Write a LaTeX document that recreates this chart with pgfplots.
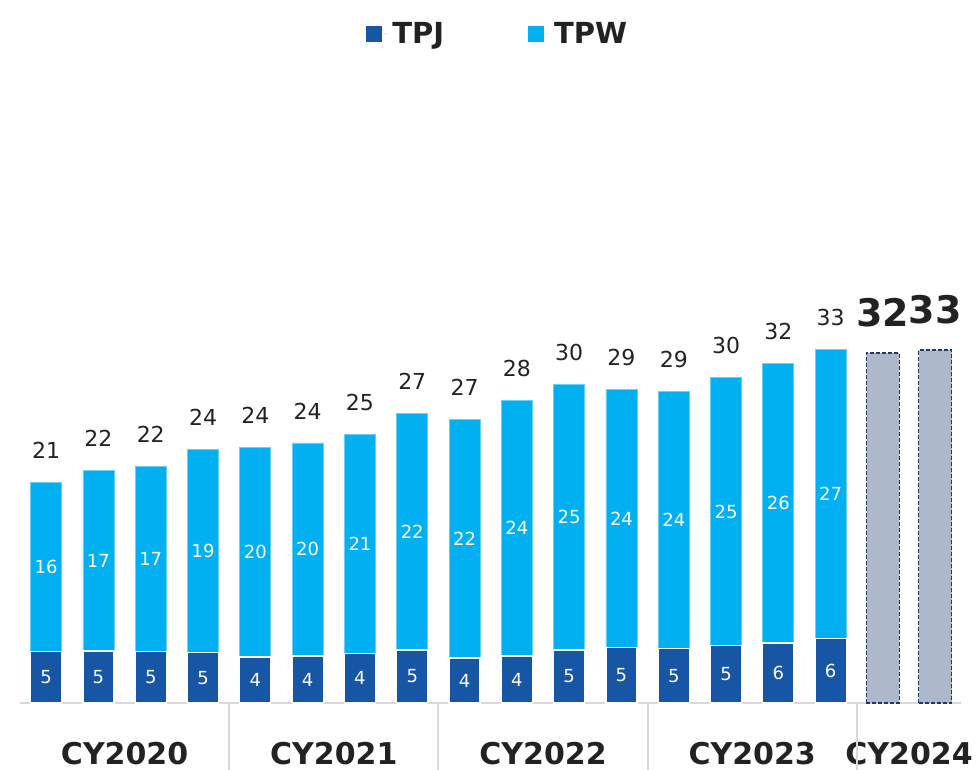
\documentclass[border=0pt]{standalone}
\usepackage{fontspec}
\setmainfont{DejaVu Sans}
\usepackage{pgfplots}
\usepackage{pgfplotstable}
\pgfplotsset{compat=1.18}
\definecolor{tpj}{HTML}{1755A5}
\definecolor{tpw}{HTML}{00B0F0}
\definecolor{fc}{HTML}{ADB9CA}
\definecolor{fcedge}{HTML}{1F3864}
\definecolor{sep}{HTML}{D9D9D9}
\definecolor{txt}{HTML}{222222}
\pgfplotstableread{
x tpj tot jlab wlab tlab
0 4.8 20.6 5 16 21
1 4.85 21.7 5 17 22
2 4.8 22.1 5 17 22
3 4.7 23.7 5 19 24
4 4.3 23.9 4 20 24
5 4.4 24.3 4 20 24
6 4.6 25.1 4 21 25
7 4.95 27.1 5 22 27
8 4.2 26.5 4 22 27
9 4.4 28.3 4 24 28
10 4.95 29.8 5 25 30
11 5.2 29.3 5 24 29
12 5.1 29.1 5 24 29
13 5.35 30.4 5 25 30
14 5.6 31.7 6 26 32
15 6.05 33.0 6 27 33
}\maintab
\pgfplotstableread{
x tot lab
16 32.7 32
17 33.0 33
}\fctab
\begin{document}
\begin{tikzpicture}
\path[use as bounding box] (-10pt,-33.5pt) rectangle (478pt,351.5pt);
\begin{axis}[
  at={(0,0)}, anchor=south west,
  x=26.15pt, y=5.35pt,
  xmin=-0.5, xmax=17.5, ymin=0, ymax=60,
  axis x line=bottom, axis y line=none,
  x axis line style={-, draw=sep, line width=1pt},
  ytick=\empty,
  xtick={1.5,5.5,9.5,13.5,16.5},
  xticklabels={CY2020,CY2021,CY2022,CY2023,CY2024},
  major tick length=0pt,
  x tick label style={font=\fontsize{15}{18}\bfseries\selectfont, text=txt, anchor=base, inner sep=0pt, yshift=-31pt},
  clip=false,
  legend style={at={(axis description cs:0.5,1)}, anchor=center, yshift=13.5pt, xshift=4pt,
    draw=none, fill=none, font=\fontsize{14.5}{17}\bfseries\selectfont, text=txt,
    legend columns=2, /tikz/every even column/.append style={column sep=40pt}},
  legend image code/.code={\fill[#1] (0pt,-4pt) rectangle (8pt,4pt); \path (0pt,0pt) -- (11pt,0pt);},
]
\addlegendimage{fill=tpj, draw=none}
\addlegendentry{TPJ}
\addlegendimage{fill=tpw, draw=none}
\addlegendentry{TPW}
% separators
\foreach \s in {3.5,7.5,11.5,15.5}{
  \edef\tmp{\noexpand\draw[sep, line width=1pt] (axis cs:\s,0) -- ++(0pt,-33.5pt);}\tmp
}
% bars
\addplot[ybar, bar shift=0pt, bar width=15.5pt, fill=tpw, draw=tpw!60!white, line width=0.4pt, forget plot]
  table[x=x, y=tot] {\maintab};
\addplot[ybar, bar shift=0pt, bar width=15.5pt, fill=tpj, draw=white, line width=0.6pt, forget plot]
  table[x=x, y=tpj] {\maintab};
\addplot[ybar, bar shift=0pt, bar width=16.5pt, fill=fc, draw=fcedge, line width=0.7pt,
  dash pattern=on 2pt off 1pt, forget plot]
  table[x=x, y=tot] {\fctab};
% labels
\addplot[draw=none, forget plot, nodes near coords, point meta=explicit symbolic,
  nodes near coords style={anchor=center, text=white, font=\fontsize{9}{11}\selectfont}]
  table[x=x, y expr=\thisrow{tpj}/2, meta=jlab] {\maintab};
\addplot[draw=none, forget plot, nodes near coords, point meta=explicit symbolic,
  nodes near coords style={anchor=center, text=white, font=\fontsize{9}{11}\selectfont}]
  table[x=x, y expr=(\thisrow{tpj}+\thisrow{tot})/2, meta=wlab] {\maintab};
\addplot[draw=none, forget plot, nodes near coords, point meta=explicit symbolic,
  nodes near coords style={anchor=center, text=txt, font=\fontsize{11}{13}\selectfont}]
  table[x=x, y expr=\thisrow{tot}+3, meta=tlab] {\maintab};
\addplot[draw=none, forget plot, nodes near coords, point meta=explicit symbolic,
  nodes near coords style={anchor=center, text=txt, font=\fontsize{19}{22}\bfseries\selectfont}]
  table[x=x, y expr=\thisrow{tot}+3.8, meta=lab] {\fctab};
\end{axis}
\end{tikzpicture}
\end{document}
